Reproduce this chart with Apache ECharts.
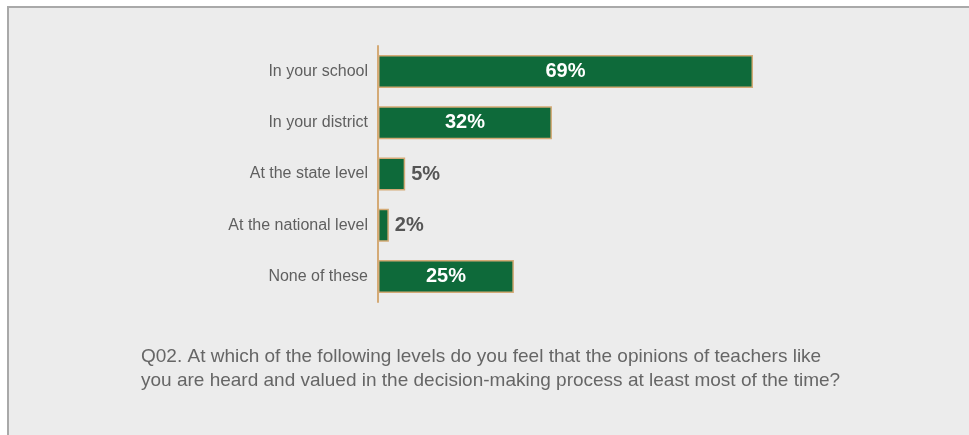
<!DOCTYPE html>
<html>
<head>
<meta charset="utf-8">
<script src="https://cdn.jsdelivr.net/npm/echarts@6/dist/echarts.min.js"></script>
<style>
  html, body { margin: 0; padding: 0; background: #ffffff; }
  #chart { width: 969px; height: 435px; }
</style>
</head>
<body>
<div id="chart"></div>
<script>
// Survey response levels and share of teachers (percent)
const categories = ['In your school', 'In your district', 'At the state level', 'At the national level', 'None of these'];
const values = [69, 32, 5, 2, 25];
// Bars wide enough to hold their label get it inside; short ones get it outside
const insideThreshold = 10;
const questionLines = [
  'Q02. At which of the following levels do you feel that the opinions of teachers like',
  'you are heard and valued in the decision-making process at least most of the time?'
];

const GREEN = '#0e6a3a';
const TAN = '#d4aa76';
const FONT = '"Liberation Sans", Arial, sans-serif';

const chart = echarts.init(document.getElementById('chart'), null, { renderer: 'canvas' });

const barData = values.map(v => ({
  value: v,
  label: v >= insideThreshold
    ? { position: 'inside', color: '#ffffff' }
    : { position: 'right', color: '#555555', distance: 6 }
}));

chart.setOption({
  animation: false,
  backgroundColor: '#ffffff',
  graphic: [
    {
      type: 'rect',
      z: -10,
      shape: { x: 8, y: 7, width: 1000, height: 500 },
      style: { fill: '#ececec', stroke: '#a9a9a9', lineWidth: 2 }
    },
    {
      type: 'text',
      left: 141,
      top: 345,
      style: {
        text: questionLines.join('\n'),
        fill: '#666666',
        font: '19px ' + FONT,
        lineHeight: 24
      }
    }
  ],
  grid: { left: 378, top: 46, width: 543.5, height: 256, containLabel: false },
  xAxis: {
    type: 'value',
    min: 0,
    max: 100,
    show: false
  },
  yAxis: {
    type: 'category',
    data: categories,
    inverse: true,
    axisLine: { show: true, lineStyle: { color: TAN, width: 2 } },
    axisTick: { show: false },
    axisLabel: { color: '#5f5f5f', fontSize: 16, fontFamily: FONT, margin: 10 },
    splitLine: { show: false }
  },
  series: [{
    type: 'bar',
    data: barData,
    barWidth: 33,
    itemStyle: { color: GREEN, borderColor: TAN, borderWidth: 1.5 },
    label: {
      show: true,
      formatter: '{c}%',
      fontSize: 20,
      fontWeight: 'bold',
      fontFamily: FONT
    }
  }]
});
</script>
</body>
</html>
